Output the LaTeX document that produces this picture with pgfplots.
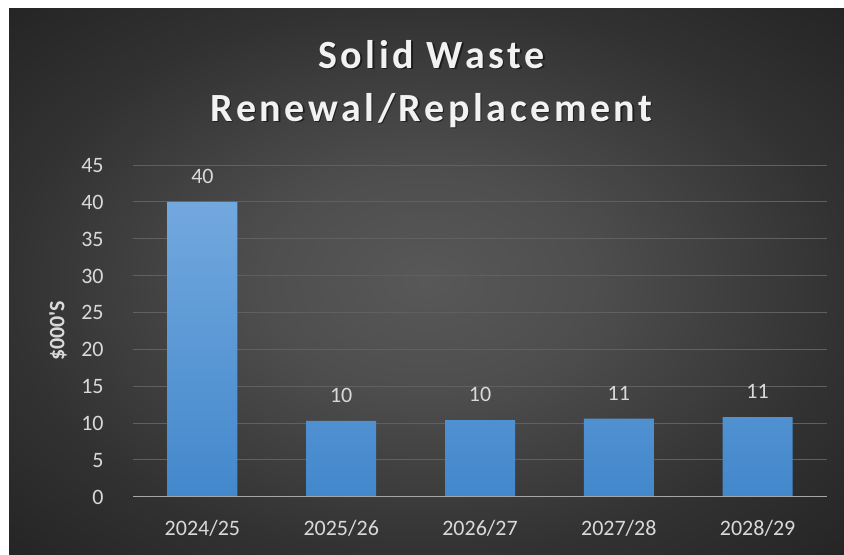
\documentclass[border=0pt]{standalone}
\usepackage{pgfplots}
\pgfplotsset{compat=1.18}
\usepackage{fontspec}
\setmainfont{Carlito}
\newfontfamily\tfont[LetterSpace=9]{Carlito}
\definecolor{txt}{RGB}{217,217,217}
\definecolor{titlec}{RGB}{242,242,242}
\definecolor{gridc}{RGB}{96,96,96}
\definecolor{axc}{RGB}{166,166,166}
\definecolor{bartop}{RGB}{114,168,222}
\definecolor{barbot}{RGB}{67,136,204}
\definecolor{bgc}{RGB}{88,88,88}
\definecolor{bgm}{RGB}{78,78,78}
\definecolor{bge}{RGB}{50,50,50}
\definecolor{bgk}{RGB}{36,36,36}
\pgfdeclareradialshading{bgshade}{\pgfpoint{0bp}{0bp}}{color(0bp)=(bgc); color(10bp)=(bgm); color(25bp)=(bge); color(36bp)=(bgk); color(50bp)=(bgk)}
\begin{document}
\begin{tikzpicture}
\fill[white] (0,0) rectangle (422pt,277pt);
\shade[shading=bgshade] (4.5pt,0) rectangle (422pt,273pt);
\node[anchor=base, text=black, opacity=0.5, font={\tfont\bfseries\fontsize{20}{24}\selectfont}] at (216.4pt,242.4pt) {Solid Waste};
\node[anchor=base, text=titlec, font={\tfont\bfseries\fontsize{20}{24}\selectfont}] at (215.75pt,243pt) {Solid Waste};
\node[anchor=base, text=black, opacity=0.5, font={\tfont\bfseries\fontsize{20}{24}\selectfont}] at (216.4pt,215.9pt) {Renewal/Replacement};
\node[anchor=base, text=titlec, font={\tfont\bfseries\fontsize{20}{24}\selectfont}] at (215.75pt,216.5pt) {Renewal/Replacement};
\begin{axis}[
  at={(66.5pt,28.65pt)}, anchor=south west,
  width=347pt, height=165.85pt, scale only axis,
  xmin=-0.5, xmax=4.5, ymin=0, ymax=45,
  ytick={0,5,...,45},
  xtick={0,1,2,3,4},
  xticklabels={2024/25,2025/26,2026/27,2027/28,2028/29},
  axis line style={draw=none},
  major tick length=0pt,
  ymajorgrids, grid style={gridc, line width=0.5pt},
  ybar, bar width=35pt,
  /pgf/number format/assume math mode=true,
  tick label style={font=\fontsize{11}{13}\selectfont, text=txt},
  yticklabel style={anchor=base east, inner sep=0pt, xshift=-14.5pt, yshift=-3.75pt},
  xticklabel style={anchor=base, inner sep=0pt, yshift=-19.25pt},
  ylabel={\textbf{\$000\textquotesingle S}},
  ylabel style={at={(axis description cs:-0.108,0.5)}, anchor=center, font=\fontsize{11}{13}\selectfont, text=txt},
  nodes near coords={\pgfmathprintnumber[fixed,precision=0]{\pgfplotspointmeta}},
  every node near coord/.append style={anchor=base, inner sep=0pt, yshift=9.2pt, text=txt, font=\fontsize{11}{13}\selectfont},
]
\addplot[draw=none, top color=bartop, bottom color=barbot] coordinates {(0,40) (1,10.3) (2,10.4) (3,10.6) (4,10.8)};
\draw[color=axc, line width=0.75pt] (rel axis cs:0,0) -- (rel axis cs:1,0);
\end{axis}
\end{tikzpicture}
\end{document}
